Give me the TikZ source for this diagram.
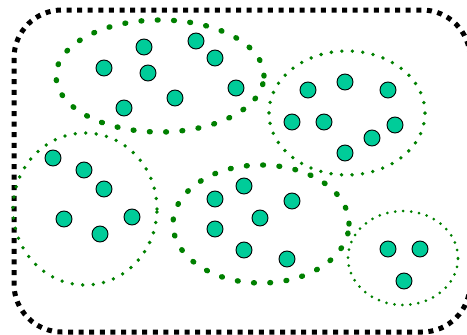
\documentclass[tikz,border=0pt]{standalone}
\definecolor{dotgreen}{RGB}{0,128,0}
\definecolor{pointfill}{RGB}{0,204,153}
\tikzset{
  point/.style={draw, circle, fill=pointfill, line width=0.9pt, minimum size=16pt, inner sep=0pt},
  bigdots/.style={dotgreen, line cap=round, line width=5.4pt, dash pattern=on 0.8pt off 15.5pt},
  smalldots/.style={dotgreen, line cap=round, line width=3.8pt, dash pattern=on 0pt off 10.5pt},
  tinydots/.style={dotgreen, line cap=round, line width=3pt, dash pattern=on 0pt off 8pt},
  frame/.style={line width=5pt, dash pattern=on 5pt off 5.6pt, rounded corners=48pt}
}
\begin{document}
\begin{tikzpicture}[x=1pt, y=-1pt]
\useasboundingbox (0,0) rectangle (467,335);
\begin{scope}
\clip (0,0) rectangle (467,335);
\draw[frame] (14,10) rectangle (470,332);
\end{scope}
% clusters
\draw[bigdots] (160,76) ellipse (104pt and 56pt);
\draw[smalldots] (347,113) ellipse (78pt and 62pt);
\draw[smalldots] (85,209) ellipse (72pt and 76pt);
\draw[bigdots] (261,224) ellipse (88pt and 59pt);
\draw[tinydots] (403,258) ellipse (55pt and 47pt);
% top cluster
\node[point] (t1) at (144,47) {};
\node[point] (t2) at (196,41) {};
\node[point] (t3) at (215,58) {};
\node[point] (t4) at (104,68) {};
\node[point] (t5) at (148,73) {};
\node[point] (t6) at (236,88) {};
\node[point] (t7) at (175,98) {};
\node[point] (t8) at (124,108) {};
% right cluster
\node[point] (r1) at (308,90) {};
\node[point] (r2) at (345,82) {};
\node[point] (r3) at (388,90) {};
\node[point] (r4) at (292,122) {};
\node[point] (r5) at (324,122) {};
\node[point] (r6) at (395,125) {};
\node[point] (r7) at (372,138) {};
\node[point] (r8) at (345,153) {};
% left cluster
\node[point] (l1) at (53,158) {};
\node[point] (l2) at (84,170) {};
\node[point] (l3) at (104,189) {};
\node[point] (l4) at (64,219) {};
\node[point] (l5) at (132,217) {};
\node[point] (l6) at (100,234) {};
% middle cluster
\node[point] (m1) at (244,186) {};
\node[point] (m2) at (215,199) {};
\node[point] (m3) at (292,201) {};
\node[point] (m4) at (260,218) {};
\node[point] (m5) at (215,229) {};
\node[point] (m6) at (244,250) {};
\node[point] (m7) at (287,259) {};
% small cluster
\node[point] (s1) at (388,249) {};
\node[point] (s2) at (420,249) {};
\node[point] (s3) at (404,281) {};
\end{tikzpicture}
\end{document}
